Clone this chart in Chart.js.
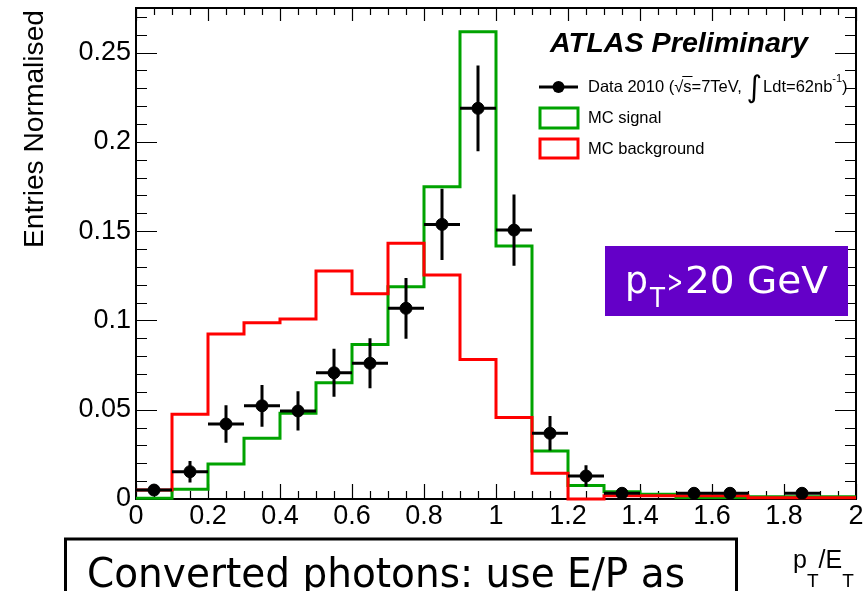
<!DOCTYPE html>
<html>
<head>
<meta charset="utf-8">
<script src="https://cdn.jsdelivr.net/npm/chart.js@4.4.1/dist/chart.umd.min.js"></script>
<style>
  html, body { margin: 0; padding: 0; background: #fff; }
  canvas { display: block; }
</style>
</head>
<body>
<canvas id="ratio-chart" width="866" height="591"></canvas>
<script>
// pT/ET histograms, 20 bins of 0.1
const binEdges = [0, 0.1, 0.2, 0.3, 0.4, 0.5, 0.6, 0.7, 0.8, 0.9, 1.0,
                  1.1, 1.2, 1.3, 1.4, 1.5, 1.6, 1.7, 1.8, 1.9, 2.0];
const signalMC = [0.0004, 0.0054, 0.0196, 0.034, 0.048, 0.0651, 0.0865, 0.1189, 0.1749, 0.2617,
                  0.1417, 0.0269, 0.0075, 0.0041, 0.0026, 0.0008, 0.0008, 0.0013, 0.0013, 0.0013];
const backgroundMC = [0.005, 0.0474, 0.0924, 0.0987, 0.1008, 0.1277, 0.115, 0.1432, 0.1254, 0.0782,
                      0.0457, 0.0144, 0, 0.0018, 0.0018, 0.0018, 0.0018, 0.0007, 0.0007, 0.0007];

// data 2010, bin centres with statistical errors (empty bins are null)
const dataCentres = [0.05, 0.15, 0.25, 0.35, 0.45, 0.55, 0.65, 0.75, 0.85, 0.95,
                     1.05, 1.15, 1.25, 1.35, 1.45, 1.55, 1.65, 1.75, 1.85, 1.95];
const dataValues = [0.005, 0.0153, 0.042, 0.0522, 0.0493, 0.0707, 0.076, 0.1068, 0.1538, 0.2188,
                    0.1506, 0.0368, 0.0129, 0.0032, null, 0.0032, 0.0032, null, 0.0032, null];
const dataErrors = [0.003, 0.006, 0.0105, 0.0117, 0.011, 0.0135, 0.014, 0.017, 0.02, 0.024,
                    0.02, 0.0097, 0.006, 0.002, 0, 0.002, 0.002, 0, 0.002, 0];

const xTickLabels = [0, 0.2, 0.4, 0.6, 0.8, 1.0, 1.2, 1.4, 1.6, 1.8, 2.0];
const yTickLabels = [0, 0.05, 0.1, 0.15, 0.2, 0.25];
const yMax = 0.275;

const GREEN = '#00a300';
const RED = '#ff0000';

// histogram -> stepped line points (last edge repeats the last bin)
function stepPoints(values) {
  return binEdges.map((x, i) => ({ x, y: values[Math.min(i, values.length - 1)] }));
}

const dataPoints = dataCentres
  .map((x, i) => ({ x, y: dataValues[i], err: dataErrors[i] }))
  .filter(p => p.y !== null);

Chart.defaults.font.family = "'Liberation Sans', Arial, sans-serif";
Chart.defaults.color = '#000';

// ROOT style frame with inward ticks on all four sides
const frame = {
  id: 'frame',
  beforeDatasetsDraw(chart) {
    const { ctx, chartArea: a, scales: { x, y } } = chart;
    ctx.save();
    ctx.strokeStyle = '#000';
    ctx.lineWidth = 1.2;
    ctx.beginPath();
    for (let i = 0; i <= 40; i++) {
      const v = i * 0.05;
      const px = Math.round(x.getPixelForValue(v)) + 0.5;
      const major = i % 4 === 0;
      const lb = major ? 15 : 8;
      const lt = major ? 13 : 7;
      ctx.moveTo(px, a.bottom); ctx.lineTo(px, a.bottom - lb);
      ctx.moveTo(px, a.top); ctx.lineTo(px, a.top + lt);
    }
    for (let i = 0; i <= 27; i++) {
      const v = i * 0.01;
      const py = Math.round(y.getPixelForValue(v)) + 0.5;
      const len = i % 5 === 0 ? 21 : 11;
      ctx.moveTo(a.left, py); ctx.lineTo(a.left + len, py);
      ctx.moveTo(a.right, py); ctx.lineTo(a.right - len, py);
    }
    ctx.stroke();
    ctx.lineWidth = 2;
    ctx.strokeRect(a.left, a.top, a.right - a.left, a.bottom - a.top);
    ctx.restore();
  },
  afterDatasetsDraw(chart) {
    const { ctx, scales: { x, y } } = chart;
    ctx.save();
    ctx.strokeStyle = '#000';
    ctx.lineWidth = 3;
    ctx.beginPath();
    dataPoints.forEach(p => {
      const cx = x.getPixelForValue(p.x);
      const cy = y.getPixelForValue(p.y);
      ctx.moveTo(x.getPixelForValue(p.x - 0.05), cy);
      ctx.lineTo(x.getPixelForValue(p.x + 0.05), cy);
      ctx.moveTo(cx, y.getPixelForValue(p.y + p.err));
      ctx.lineTo(cx, y.getPixelForValue(Math.max(0, p.y - p.err)));
    });
    ctx.stroke();
    ctx.restore();
  }
};

// squeeze/stretch text to a given width (left aligned)
function fitText(ctx, text, x, y, width) {
  const w = ctx.measureText(text).width;
  ctx.save();
  ctx.translate(x, y);
  ctx.scale(width / w, 1);
  ctx.fillText(text, 0, 0);
  ctx.restore();
}

const labels = {
  id: 'labels',
  afterDraw(chart) {
    const { ctx } = chart;
    ctx.save();
    ctx.fillStyle = '#000';
    ctx.textBaseline = 'alphabetic';
    ctx.textAlign = 'left';

    // y axis title, top aligned
    ctx.save();
    ctx.translate(43, 10);
    ctx.rotate(-Math.PI / 2);
    ctx.font = "27px 'Liberation Sans'";
    fitText(ctx, 'Entries Normalised', -238, 0, 238);
    ctx.restore();

    // x axis title
    let tx = 793;
    const sub = (t, size, base) => {
      ctx.font = size + "px 'Liberation Sans'";
      ctx.fillText(t, tx, base);
      tx += ctx.measureText(t).width;
    };
    sub('p', 25, 568); sub('T', 19, 587); sub('/', 25, 568); sub('E', 25, 568); sub('T', 19, 587);

    // experiment label
    ctx.font = "italic bold 27px 'Liberation Sans'";
    fitText(ctx, 'ATLAS Preliminary', 550, 52, 258);

    // legend
    ctx.lineWidth = 3;
    ctx.strokeStyle = '#000';
    ctx.beginPath(); ctx.moveTo(539, 87); ctx.lineTo(578, 87); ctx.stroke();
    ctx.beginPath(); ctx.arc(558.5, 87, 6, 0, Math.PI * 2); ctx.fill();
    ctx.strokeStyle = GREEN; ctx.strokeRect(540, 108, 38, 20);
    ctx.strokeStyle = RED; ctx.strokeRect(540, 139, 38, 19);

    ctx.font = "16.5px 'Liberation Sans'";
    ctx.fillText('MC signal', 588, 123);
    ctx.fillText('MC background', 588, 154);

    let lx = 588;
    const seg = (t, font, base) => {
      ctx.font = font;
      ctx.fillText(t, lx, base);
      lx += ctx.measureText(t).width;
    };
    const f = "16.5px 'Liberation Sans'";
    seg('Data 2010 (', f, 92);
    seg('\u221A', f, 92);
    const sX = lx;
    seg('s', f, 92);
    ctx.lineWidth = 1;
    ctx.strokeStyle = '#000';
    ctx.beginPath(); ctx.moveTo(sX - 1, 76.5); ctx.lineTo(lx + 1, 76.5); ctx.stroke();
    seg('=7TeV, ', f, 92);
    seg('\u222B', "30px 'DejaVu Sans'", 97);
    lx += 1;
    seg('Ldt=62nb', f, 92);
    seg('-1', "11px 'Liberation Sans'", 82);
    seg(')', f, 92);

    // pT threshold box
    ctx.fillStyle = '#6400c8';
    ctx.fillRect(605, 246, 243, 70);
    ctx.fillStyle = '#fff';
    ctx.font = "38px 'DejaVu Sans'";
    fitText(ctx, 'p', 625, 293, 23);
    ctx.font = "26px 'DejaVu Sans'";
    fitText(ctx, 'T', 650, 307, 15);
    ctx.font = "30px 'DejaVu Sans'";
    fitText(ctx, '>', 667, 292, 16);
    ctx.font = "38px 'DejaVu Sans'";
    fitText(ctx, '20 GeV', 685, 293, 143);

    // note box at the bottom
    ctx.strokeStyle = '#000';
    ctx.lineWidth = 3;
    ctx.strokeRect(65.5, 539, 671, 80);
    ctx.fillStyle = '#000';
    ctx.font = "41px 'DejaVu Sans'";
    fitText(ctx, 'Converted photons: use E/P as', 87, 587, 598);

    ctx.restore();
  }
};

new Chart(document.getElementById('ratio-chart'), {
  type: 'scatter',
  data: {
    datasets: [
      {
        label: 'Data 2010',
        data: dataPoints,
        backgroundColor: '#000',
        borderColor: '#000',
        pointRadius: 6,
        pointHoverRadius: 6,
        order: 0
      },
      {
        label: 'MC background',
        data: stepPoints(backgroundMC),
        showLine: true,
        stepped: 'before',
        borderColor: RED,
        borderWidth: 3,
        pointRadius: 0,
        fill: false,
        clip: 6,
        order: 1
      },
      {
        label: 'MC signal',
        data: stepPoints(signalMC),
        showLine: true,
        stepped: 'before',
        borderColor: GREEN,
        borderWidth: 3,
        pointRadius: 0,
        fill: false,
        clip: 6,
        order: 2
      }
    ]
  },
  options: {
    responsive: false,
    animation: false,
    events: [],
    layout: { padding: { left: 0, top: 8, right: 10, bottom: 52 } },
    plugins: {
      legend: { display: false },
      tooltip: { enabled: false }
    },
    scales: {
      x: {
        type: 'linear',
        min: 0,
        max: 2,
        border: { display: false },
        grid: { display: false, drawTicks: false },
        afterBuildTicks: s => { s.ticks = xTickLabels.map(v => ({ value: v })); },
        afterFit: s => { s.height = 40; },
        ticks: {
          padding: 1,
          maxRotation: 0,
          autoSkip: false,
          font: { size: 27 },
          callback: v => String(Math.round(v * 10) / 10)
        }
      },
      y: {
        type: 'linear',
        min: 0,
        max: yMax,
        border: { display: false },
        grid: { display: false, drawTicks: false },
        afterBuildTicks: s => { s.ticks = yTickLabels.map(v => ({ value: v })); },
        // fixed axis width, and no extra room reserved for half-labels above/below
        afterFit: s => { s.width = 136; s.paddingTop = 0; s.paddingBottom = 0; },
        ticks: {
          padding: 5,
          autoSkip: false,
          font: { size: 27 },
          callback: v => String(Math.round(v * 100) / 100)
        }
      }
    }
  },
  plugins: [frame, labels]
});
</script>
</body>
</html>
